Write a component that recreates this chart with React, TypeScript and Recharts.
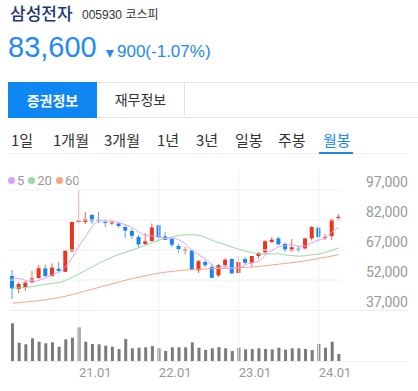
import React from "react";
import {
  ComposedChart,
  Bar,
  Line,
  XAxis,
  YAxis,
  ReferenceLine,
} from "recharts";

const months = [
  "20.03", "20.04", "20.05", "20.06", "20.07", "20.08", "20.09", "20.10", "20.11", "20.12",
  "21.01", "21.02", "21.03", "21.04", "21.05", "21.06", "21.07", "21.08", "21.09", "21.10", "21.11", "21.12",
  "22.01", "22.02", "22.03", "22.04", "22.05", "22.06", "22.07", "22.08", "22.09", "22.10", "22.11", "22.12",
  "23.01", "23.02", "23.03", "23.04", "23.05", "23.06", "23.07", "23.08", "23.09", "23.10", "23.11", "23.12",
  "24.01", "24.02", "24.03", "24.04",
];

const opens = [
  54000, 47500, 48500, 50800, 53000, 57800, 54000, 57600, 56100, 66300,
  81000, 81000, 84500, 82200, 81000, 80300, 80200, 78500, 76500, 73500, 70000, 71500,
  79400, 73800, 72500, 69000, 66600, 67000, 56800, 61000, 58500, 54300, 59500, 62500,
  55500, 62500, 60500, 64000, 65900, 71000, 72800, 70000, 66700, 67600, 67800, 72800,
  78200, 72900, 74000, 83000,
];
const highs = [
  57000, 51000, 51500, 56500, 59500, 59700, 60400, 61000, 67000, 81300,
  96800, 86000, 85000, 86000, 82500, 82000, 81000, 79500, 77700, 74500, 75500, 80300,
  79800, 76000, 73500, 70000, 68500, 67500, 62000, 62000, 60000, 60000, 63000, 62800,
  64000, 63500, 64000, 66000, 72000, 73400, 73600, 70900, 72500, 69000, 73000, 79000,
  79800, 75000, 82500, 85000,
];
const lows = [
  42500, 45500, 46500, 50300, 52700, 53500, 53700, 56000, 56000, 66000,
  80200, 80000, 80000, 80500, 78500, 79500, 78000, 73000, 72500, 68300, 69500, 71300,
  71000, 72000, 68500, 65500, 64800, 56800, 55500, 58500, 53000, 53500, 58000, 55200,
  55400, 59800, 58500, 62500, 65000, 70500, 69500, 66000, 66000, 66000, 67000, 71800,
  71200, 72000, 72000, 82000,
];
const closes = [
  47750, 50000, 50700, 52800, 57900, 54000, 58200, 56600, 66700, 81000,
  82000, 82500, 81400, 81500, 80500, 80700, 79000, 76700, 74100, 69800, 71300, 78300,
  73300, 72100, 69600, 67400, 67400, 57000, 61400, 59400, 53100, 59400, 62200, 55300,
  61000, 60600, 64000, 65500, 71400, 72200, 69800, 66900, 68400, 66900, 72800, 78500,
  73400, 73400, 82400, 83600,
];
// volume, millions of shares
const volumes = [
  603, 293, 267, 363, 309, 283, 299, 229, 347, 373,
  539, 309, 272, 267, 245, 229, 192, 352, 203, 213, 219, 240,
  203, 160, 219, 219, 219, 299, 213, 178, 203, 224, 203, 160,
  213, 187, 192, 203, 192, 187, 213, 181, 203, 203, 192, 176,
  272, 213, 309, 112,
];
const ma5 = [
  52910, 52830, 51810, 51090, 51830, 53080, 54720, 55900, 58680, 63300,
  68900, 73760, 78720, 81680, 81580, 81320, 80620, 79680, 78200, 76060, 74180, 74040,
  73360, 72960, 72920, 72140, 69960, 66700, 64560, 62520, 59660, 58060, 59100, 57880,
  58200, 59700, 60620, 61280, 64500, 66740, 68580, 69160, 69740, 68840, 68960, 70700,
  72000, 73000, 76100, 78260,
];
const ma20 = [
  48000, 48100, 48300, 48700, 49300, 49800, 50300, 50700, 51800, 53300,
  55000, 56800, 58600, 60400, 62000, 63500, 64800, 65900, 67000, 68190, 69370, 70785,
  71915, 72880, 73465, 74135, 74595, 74615, 74350, 73270, 71825, 70670, 69710, 68400,
  67425, 66420, 65670, 65110, 64975, 65095, 65020, 64450, 64205, 63945, 64105, 64660,
  64960, 65780, 66830, 68040,
];
const ma60 = [
  40400, 40700, 41000, 41300, 41700, 42100, 42600, 43200, 43900, 44700,
  45600, 46500, 47400, 48300, 49200, 50100, 51000, 51900, 52700, 53400, 54100, 54800,
  55400, 55900, 56300, 56700, 57000, 57200, 57400, 57500, 57600, 57700, 57800, 57900,
  58100, 58300, 58500, 58800, 59100, 59500, 59900, 60300, 60700, 61100, 61600, 62200,
  62800, 63400, 64000, 64700,
];
const priceTicks = [97000, 82000, 67000, 52000, 37000];
const yearTicks = ["21.01", "22.01", "23.01", "24.01"];

const RED = "#e8361f";
const BLUE = "#1a82f2";
const KR = "'Noto Sans CJK KR', 'Noto Sans', sans-serif";
const NUM = "'Liberation Sans', Arial, 'Noto Sans CJK KR', sans-serif";

const data = months.map((m, i) => ({
  m,
  o: opens[i],
  h: highs[i],
  l: lows[i],
  c: closes[i],
  v: volumes[i],
  ma5: ma5[i],
  ma20: ma20[i],
  ma60: ma60[i],
}));

const Candle = (props: any) => {
  const { x, y, width, height, payload } = props;
  if (!payload) return null;
  const { o, h, l, c } = payload;
  const top = Math.min(y, y + height);
  const span = Math.abs(height);
  const k = h === l ? 0 : span / (h - l);
  const py = (v: number) => top + (h - v) * k;
  const color = c >= o ? RED : BLUE;
  const bodyTop = py(Math.max(o, c));
  const bodyH = Math.max(1, Math.abs(py(o) - py(c)));
  const cx = x + width / 2;
  return (
    <g>
      <line x1={cx} x2={cx} y1={top} y2={top + span} stroke={color} strokeOpacity={0.75} />
      <rect x={x} y={bodyTop} width={width} height={bodyH} fill={color} />
    </g>
  );
};

const PriceTick = (props: any) => {
  const { y, payload } = props;
  return (
    <text x={408} y={y - 8} textAnchor="end" dominantBaseline="central" fill="#999" fontSize={14} fontFamily="Roboto">
      {payload.value.toLocaleString("en-US")}
    </text>
  );
};

const MonthTick = (props: any) => {
  const { x, y, payload } = props;
  if (!yearTicks.includes(payload.value)) return <g />;
  return (
    <text x={x} y={y} dy={8} textAnchor="start" fill="#999" fontSize={13} fontFamily="Roboto">
      {payload.value}
    </text>
  );
};

const tabs = ["1일", "1개월", "3개월", "1년", "3년", "일봉", "주봉", "월봉"];
const tabX = [11, 53, 104, 157, 196, 235, 278, 323];

const legend = [
  { label: "5", color: "#d9a3f2" },
  { label: "20", color: "#98d9a4" },
  { label: "60", color: "#f6a685" },
];

export default function App() {
  return (
    <div
      style={{
        position: "absolute",
        left: 0,
        top: 0,
        width: 418,
        height: 391,
        background: "#fff",
        overflow: "hidden",
        fontFamily: KR,
      }}
    >
      {/* title */}
      <div style={{ position: "absolute", left: 10, top: 0, fontSize: 17, color: "#1d3576", fontWeight: 500 }}>
        삼성전자
      </div>
      <div style={{ position: "absolute", left: 82, top: 5, fontSize: 12, color: "#333", fontFamily: NUM }}>
        005930 <span style={{ fontFamily: KR }}>코스피</span>
      </div>
      <div style={{ position: "absolute", left: 8, top: 31, fontSize: 29, color: "#2489f2", fontFamily: NUM }}>
        83,600
      </div>
      <div
        style={{
          position: "absolute", left: 106, top: 50, width: 0, height: 0,
          borderLeft: "4px solid transparent", borderRight: "4px solid transparent", borderTop: "8px solid #2489f2",
        }}
      />
      <div style={{ position: "absolute", left: 117, top: 42, fontSize: 17, color: "#2489f2", fontFamily: NUM }}>
        900(-1.07%)
      </div>

      {/* info tabs */}
      <div style={{ position: "absolute", left: 8, top: 82, width: 410, height: 34, borderTop: "1px solid #e3e3e3", borderBottom: "1px solid #e3e3e3" }} />
      <div
        style={{
          position: "absolute", left: 8, top: 82, width: 89, height: 36, background: "#0e87f2",
          color: "#fff", fontSize: 14, fontWeight: 700, display: "flex", alignItems: "center", justifyContent: "center",
        }}
      >
        증권정보
      </div>
      <div
        style={{
          position: "absolute", left: 97, top: 82, width: 87, height: 34, borderRight: "1px solid #e3e3e3",
          color: "#333", fontSize: 14, display: "flex", alignItems: "center", justifyContent: "center",
        }}
      >
        재무정보
      </div>

      {/* period tabs */}
      {tabs.map((t, i) => (
        <div
          key={t}
          style={{
            position: "absolute", left: tabX[i], top: 129, fontSize: 15,
            color: t === "월봉" ? "#1a87f2" : "#333",
          }}
        >
          {t}
        </div>
      ))}
      <div style={{ position: "absolute", left: 8, top: 153, width: 400, height: 1, background: "#eee" }} />
      <div style={{ position: "absolute", left: 319, top: 152, width: 34, height: 2, background: "#1a87f2" }} />

      {/* legend */}
      <div style={{ position: "absolute", left: 8, top: 173, display: "flex", alignItems: "center", fontSize: 13, color: "#999", fontFamily: "Roboto" }}>
        {legend.map((g) => (
          <span key={g.label} style={{ display: "flex", alignItems: "center", marginRight: 4 }}>
            <span style={{ width: 7, height: 7, borderRadius: 4, background: g.color, marginRight: 2 }} />
            {g.label}
          </span>
        ))}
      </div>

      {/* pane lines */}
      <div style={{ position: "absolute", left: 10, top: 310, width: 398, height: 1, background: "#eee" }} />
      <div style={{ position: "absolute", left: 10, top: 361, width: 398, height: 1, background: "#eee" }} />

      {/* volume */}
      <div style={{ position: "absolute", left: 0, top: 160 }}>
        <ComposedChart width={418} height={231} data={data} margin={{ top: 10, right: 76, left: 9, bottom: 30 }}>
          <XAxis dataKey="m" hide />
          <YAxis yAxisId="vol" hide domain={[0, 3056]} />
          <Bar yAxisId="vol" dataKey="v" fill="#7a7a7a" barSize={3} isAnimationActive={false} />
        </ComposedChart>
      </div>

      {/* price */}
      <div style={{ position: "absolute", left: 0, top: 160 }}>
        <ComposedChart width={418} height={231} data={data} margin={{ top: 10, right: 0, left: 9, bottom: 0 }}>
          <XAxis dataKey="m" height={30} axisLine={false} tickLine={false} interval={0} tick={<MonthTick />} />
          <YAxis
            yAxisId="price"
            orientation="right"
            width={76}
            domain={[11500, 107000]}
            allowDataOverflow
            ticks={priceTicks}
            axisLine={false}
            tickLine={false}
            tick={<PriceTick />}
          />
          {priceTicks.slice(0, 4).map((p) => (
            <ReferenceLine key={p} yAxisId="price" y={p} stroke="#f0f0f0" />
          ))}
          {yearTicks.map((t) => (
            <ReferenceLine key={t} yAxisId="price" x={t} stroke="#f0f0f0" />
          ))}
          <Line yAxisId="price" type="monotone" dataKey="ma60" stroke="#f6a685" strokeWidth={1} dot={false} isAnimationActive={false} />
          <Line yAxisId="price" type="monotone" dataKey="ma20" stroke="#98d9a4" strokeWidth={1} dot={false} isAnimationActive={false} />
          <Line yAxisId="price" type="monotone" dataKey="ma5" stroke="#d9a3f2" strokeWidth={1} dot={false} isAnimationActive={false} />
          <Bar
            yAxisId="price"
            dataKey={(d: any) => [d.l, d.h]}
            barSize={4}
            shape={<Candle />}
            isAnimationActive={false}
          />
        </ComposedChart>
      </div>
    </div>
  );
}
